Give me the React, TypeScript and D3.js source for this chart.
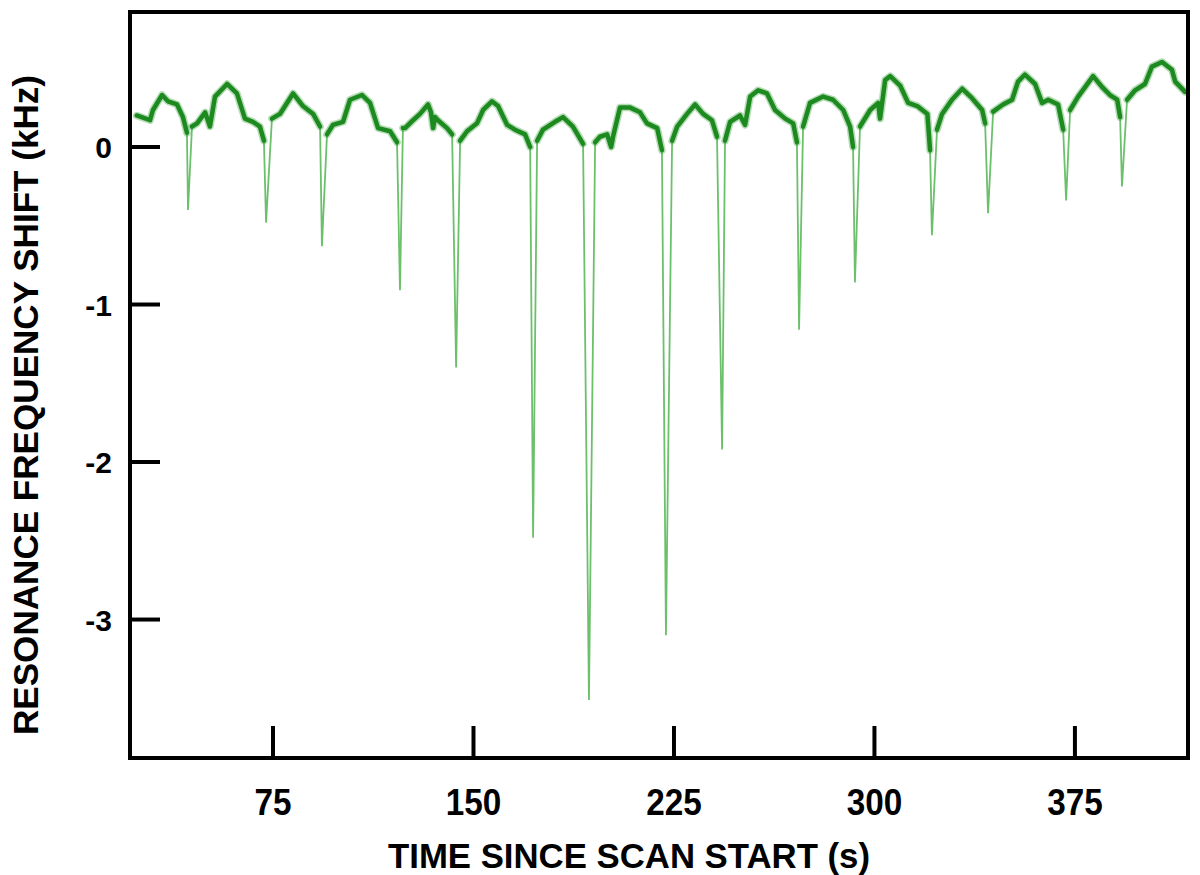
import React from "react";
import * as d3 from "d3";

// Baseline trace (time in s, shift in kHz)
const baseTime = [
  24.0, 29.0, 30.1, 33.5, 35.7, 39.1, 41.3, 42.8,
  44.7, 46.6, 49.6, 51.4, 53.3, 57.8, 61.5, 64.5, 67.5, 70.1, 71.6,
  74.6, 77.6, 82.5, 86.2, 90.0, 92.6,
  95.2, 97.4, 101.2, 103.8, 108.3, 111.3, 114.3, 118.8, 121.4,
  123.6, 124.4, 127.4, 130.0, 133.0, 134.1, 134.9, 135.6, 136.7, 140.1, 142.0,
  145.0, 147.6, 151.3, 153.6, 156.9, 159.2, 162.6, 165.5, 169.3, 171.2,
  173.8, 176.0, 180.5, 183.5, 187.2, 191.0,
  195.5, 197.3, 200.0, 201.5, 202.2, 204.8, 208.6, 212.3, 214.9, 218.7, 220.5,
  224.3, 226.2, 229.9, 232.9, 235.9, 239.2, 241.1,
  244.1, 246.0, 249.7, 251.6, 253.5, 256.5, 259.8, 262.8, 266.6, 269.6, 271.0,
  273.3, 275.9, 280.8, 284.5, 288.3, 290.9, 292.0,
  294.6, 298.4, 301.4, 302.1, 304.0, 305.9, 309.6, 312.6, 316.0, 319.8, 320.8,
  323.4, 325.3, 329.0, 332.8, 336.5, 340.3, 341.4,
  344.4, 348.1, 351.5, 353.7, 356.3, 360.1, 362.7, 365.0, 368.7, 370.6,
  373.2, 376.2, 378.8, 381.8, 385.2, 388.1, 390.8, 391.9,
  394.5, 397.5, 401.2, 403.8, 407.6, 411.3, 412.5, 416.2,
];
const baseShift = [
  0.2, 0.17, 0.235, 0.33, 0.29, 0.27, 0.19, 0.09,
  0.13, 0.15, 0.22, 0.13, 0.32, 0.4, 0.34, 0.18, 0.16, 0.13, 0.04,
  0.18, 0.21, 0.34, 0.26, 0.21, 0.13,
  0.08, 0.14, 0.16, 0.3, 0.33, 0.28, 0.12, 0.1, 0.03,
  0.12, 0.12, 0.17, 0.21, 0.27, 0.22, 0.12, 0.19, 0.17, 0.12, 0.08,
  0.04, 0.1, 0.15, 0.235, 0.29, 0.26, 0.14, 0.11, 0.08, 0.0,
  0.04, 0.11, 0.16, 0.19, 0.13, 0.02,
  0.03, 0.065, 0.08, 0.0, 0.065, 0.25, 0.25, 0.22, 0.15, 0.12, -0.02,
  0.04, 0.13, 0.21, 0.27, 0.21, 0.17, 0.065,
  0.04, 0.16, 0.2, 0.14, 0.32, 0.36, 0.34, 0.235, 0.18, 0.15, 0.03,
  0.13, 0.28, 0.32, 0.3, 0.235, 0.13, 0.0,
  0.13, 0.235, 0.28, 0.18, 0.425, 0.45, 0.39, 0.28, 0.26, 0.21, -0.02,
  0.11, 0.21, 0.3, 0.37, 0.31, 0.235, 0.15,
  0.225, 0.27, 0.3, 0.415, 0.46, 0.4, 0.28, 0.3, 0.27, 0.11,
  0.235, 0.32, 0.38, 0.45, 0.38, 0.33, 0.3, 0.19,
  0.3, 0.36, 0.4, 0.51, 0.54, 0.49, 0.415, 0.35,
];

// Sharp dips (time in s, minimum shift in kHz)
const dipTime = [43.2, 72.4, 93.3, 122.5, 143.5, 172.3, 193.2, 222.0, 243.0, 271.8, 292.7, 321.5, 342.5, 371.7, 392.6];
const dipShift = [-0.4, -0.48, -0.63, -0.91, -1.4, -2.48, -3.51, -3.1, -1.92, -1.16, -0.86, -0.56, -0.42, -0.34, -0.25];

const xTicks = [75, 150, 225, 300, 375];
const yTicks = [0, -1, -2, -3];

const FONT = "'Liberation Sans', Arial, Helvetica, sans-serif";

export default function App() {
  const left = 130, right = 1188, top = 12, bottom = 758;
  const x = d3.scaleLinear().domain([21.5, 417.3]).range([left, right]);
  const y = d3.scaleLinear().domain([-3.879, 0.857]).range([bottom, top]);

  const base = baseTime.map((t, i) => ({ t, v: baseShift[i] }));
  const dips = dipTime.map((t, i) => ({ t, v: dipShift[i] }));

  const line = d3
    .line<{ t: number; v: number }>()
    .x((d) => x(d.t))
    .y((d) => y(d.v));
  const smooth = d3
    .line<{ t: number; v: number }>()
    .x((d) => x(d.t))
    .y((d) => y(d.v))
    .curveMonotoneX ? d3.line<{ t: number; v: number }>().x((d) => x(d.t)).y((d) => y(d.v)).curve(d3.curveMonotoneX) : line;

  // baseline split into segments between dips
  const segments: { t: number; v: number }[][] = [];
  let cur: { t: number; v: number }[] = [];
  let di = 0;
  base.forEach((p) => {
    while (di < dips.length && dips[di].t < p.t) {
      if (cur.length) segments.push(cur);
      cur = [];
      di++;
    }
    cur.push(p);
  });
  if (cur.length) segments.push(cur);

  // dip V-shapes: last baseline point before, dip minimum, first after
  const dipPaths = dips.map((d) => {
    const before = base.filter((p) => p.t < d.t);
    const after = base.filter((p) => p.t > d.t);
    const pts = [before[before.length - 1], d, after[0]].filter(Boolean);
    return line(pts) || "";
  });

  return (
    <svg
      width={1200}
      height={875}
      style={{ position: "absolute", left: 0, top: 0, background: "#fff" }}
      fontFamily={FONT}
      fontWeight="bold"
    >
      <rect x={0} y={0} width={1200} height={875} fill="#fff" />
      {dipPaths.map((d, i) => (
        <path key={"d" + i} d={d} fill="none" stroke="#6cc06c" strokeWidth={1.8} strokeLinejoin="miter" />
      ))}
      {segments.map((s, i) => (
        <g key={"s" + i}>
          <path d={smooth(s) || ""} fill="none" stroke="#2e9a30" strokeOpacity={0.35} strokeWidth={7.5} strokeLinejoin="round" strokeLinecap="round" />
          <path d={smooth(s) || ""} fill="none" stroke="#1d8a20" strokeWidth={4.5} strokeLinejoin="round" strokeLinecap="round" />
        </g>
      ))}

      {/* frame */}
      <rect x={left} y={top} width={right - left} height={bottom - top} fill="none" stroke="#000" strokeWidth={4} />

      {/* y ticks */}
      {yTicks.map((v) => (
        <g key={"y" + v}>
          <line x1={left} x2={left + 30} y1={y(v)} y2={y(v)} stroke="#000" strokeWidth={4} />
          <text x={112} y={y(v) + 11} textAnchor="end" fontSize={30} fill="#000">
            {v === 0 ? "0" : String(v)}
          </text>
        </g>
      ))}

      {/* x ticks */}
      {xTicks.map((t) => (
        <g key={"x" + t}>
          <line x1={x(t)} x2={x(t)} y1={bottom} y2={bottom - 32} stroke="#000" strokeWidth={4} />
          <text transform={`translate(${x(t)},815) scale(0.9,1)`} textAnchor="middle" fontSize={37} fill="#000">
            {t}
          </text>
        </g>
      ))}

      <text x={629} y={868} textAnchor="middle" fontSize={35} fill="#000" textLength={482} lengthAdjust="spacingAndGlyphs">
        TIME SINCE SCAN START (s)
      </text>
      <text
        transform="translate(38,405) rotate(-90)"
        textAnchor="middle"
        fontSize={35}
        fill="#000"
        textLength={660}
        lengthAdjust="spacingAndGlyphs"
      >
        RESONANCE FREQUENCY SHIFT (kHz)
      </text>
    </svg>
  );
}
